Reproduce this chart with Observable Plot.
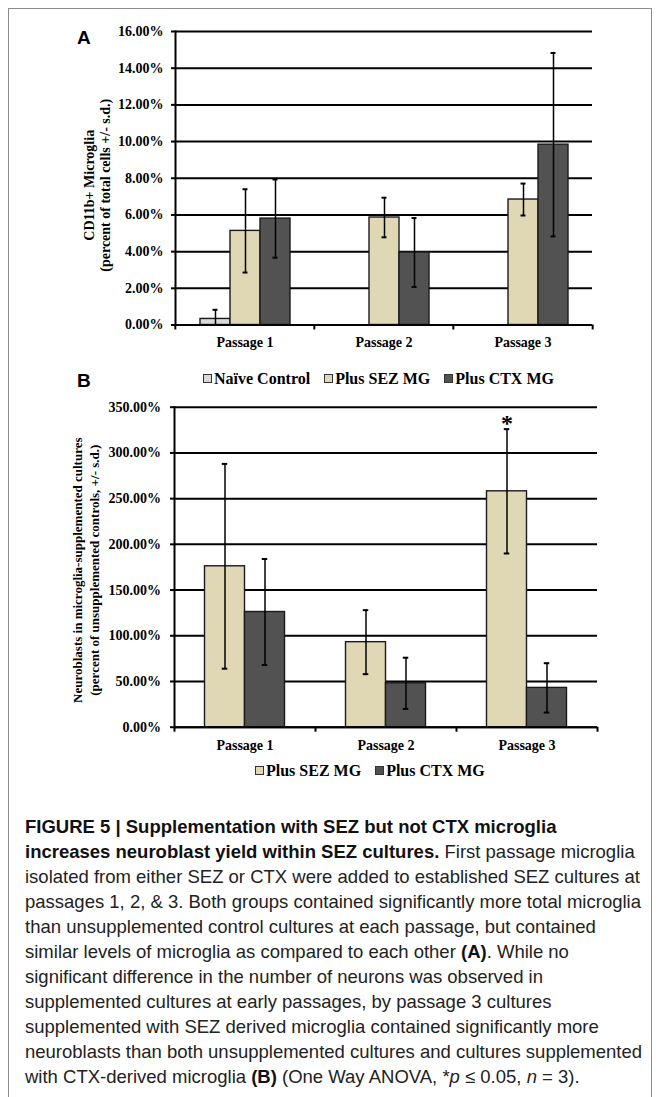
<!DOCTYPE html>
<html>
<head>
<meta charset="utf-8">
<script src="https://cdn.jsdelivr.net/npm/d3@7"></script>
<script src="https://cdn.jsdelivr.net/npm/@observablehq/plot@0.6"></script>
<style>
  body { margin: 0; background: #fff; }
  #fig { position: relative; width: 659px; height: 1097px; overflow: hidden; background: #fff; }
  #border { position: absolute; left: 8px; top: 8px; width: 644px; height: 1120px; border: 1.5px solid #8c8c8c; box-sizing: border-box; }
  .panel { position: absolute; left: 0; }
  .plabel { position: absolute; font-family: "Liberation Sans", Arial, sans-serif; font-weight: bold; font-size: 19px; line-height: 19px; color: #000; }
  .legend { position: absolute; display: flex; align-items: center; font-family: "Liberation Serif", "Times New Roman", serif; font-weight: bold; font-size: 16px; line-height: 16px; color: #000; white-space: nowrap; }
  .legend .item { display: flex; align-items: center; margin-right: 14px; }
  .legend .sw { width: 7px; height: 7px; border: 1.5px solid #333; margin-right: 2px; position: relative; top: -1px; }
  #caption { position: absolute; left: 25px; top: 814px; font-family: "Liberation Sans", Arial, sans-serif; font-size: 18.5px; line-height: 25px; color: #222; white-space: nowrap; }
  #caption b { color: #111; }
</style>
</head>
<body>
<div id="fig">
  <div id="border"></div>
  <div id="panelA" class="panel" style="top:0px"></div>
  <div id="panelB" class="panel" style="top:390px"></div>
  <div class="plabel" style="left:77px; top:28px;">A</div>
  <div class="plabel" style="left:77px; top:371px;">B</div>
  <div id="legendA" class="legend" style="left:203px; top:371px;"></div>
  <div id="legendB" class="legend" style="left:255px; top:763px;"></div>
  <div id="caption">
    <b>FIGURE 5 | Supplementation with SEZ but not CTX microglia</b><br>
    <b>increases neuroblast yield within SEZ cultures.</b> First passage microglia<br>
    isolated from either SEZ or CTX were added to established SEZ cultures at<br>
    passages 1, 2, &amp; 3. Both groups contained significantly more total microglia<br>
    than unsupplemented control cultures at each passage, but contained<br>
    similar levels of microglia as compared to each other <b>(A)</b>. While no<br>
    significant difference in the number of neurons was observed in<br>
    supplemented cultures at early passages, by passage 3 cultures<br>
    supplemented with SEZ derived microglia contained significantly more<br>
    neuroblasts than both unsupplemented cultures and cultures supplemented<br>
    with CTX-derived microglia <b>(B)</b> (One Way ANOVA, *<i>p</i> ≤ 0.05, <i>n</i> = 3).
  </div>
</div>
<script>
// ---------- data ----------
const passages = ["Passage 1", "Passage 2", "Passage 3"];

// Panel A: CD11b+ microglia (% of total cells), mean and s.d.
const seriesA = ["Naïve Control", "Plus SEZ MG", "Plus CTX MG"];
const naiveA   = [0.33, null, null];
const naiveSdA = [0.50, null, null];
const sezA     = [5.13, 5.86, 6.84];
const sezSdA   = [2.27, 1.08, 0.87];
const ctxA     = [5.80, 3.95, 9.83];
const ctxSdA   = [2.13, 1.88, 5.00];
const yTicksA  = [0, 2, 4, 6, 8, 10, 12, 14, 16];

// Panel B: neuroblasts (% of unsupplemented controls), mean and s.d.
const seriesB  = ["Plus SEZ MG", "Plus CTX MG"];
const sezB     = [176, 93, 258];
const sezSdB   = [112, 35, 68];
const ctxB     = [126, 48, 43];
const ctxSdB   = [58, 28, 27];
const yTicksB  = [0, 50, 100, 150, 200, 250, 300, 350];
const starsB   = [{passage: "Passage 3", series: "Plus SEZ MG"}];

const colorOf = {"Naïve Control": "#d9d9d9", "Plus SEZ MG": "#e0d8b4", "Plus CTX MG": "#525252"};

function rowsFrom(series, values, sds) {
  const rows = [];
  series.forEach((s, si) => passages.forEach((p, pi) => {
    const v = values[si][pi];
    if (v != null) rows.push({passage: p, series: s, value: v, sd: sds[si][pi]});
  }));
  return rows;
}
const rowsA = rowsFrom(seriesA, [naiveA, sezA, ctxA], [naiveSdA, sezSdA, ctxSdA]);
const rowsB = rowsFrom(seriesB, [sezB, ctxB], [sezSdB, ctxSdB]);
const starRowsB = starsB.map(s => rowsB.find(r => r.passage === s.passage && r.series === s.series));

const serif = "'Liberation Serif', 'Times New Roman', serif";

function panel(o) {
  const facetW = (o.width - o.mL - o.mR) / passages.length;
  const bw = facetW / (o.series.length + 2 * o.padOuter);
  const capInset = (bw - 6) / 2;
  const lower = d => Math.max(0, d.value - d.sd);
  const upper = d => d.value + d.sd;
  const marks = [
    Plot.ruleY(o.ticks, {stroke: "#000", strokeWidth: 2}),
    Plot.barY(o.rows, {fx: "passage", x: "series", y: "value", fill: "series", stroke: "#1a1a1a", strokeWidth: 1.4}),
    Plot.ruleX(o.rows, {fx: "passage", x: "series", y1: lower, y2: upper, stroke: "#000", strokeWidth: 1.5}),
    Plot.tickY(o.rows, {fx: "passage", x: "series", y: upper, insetLeft: capInset, insetRight: capInset, stroke: "#000", strokeWidth: 2}),
    Plot.tickY(o.rows.filter(d => d.value - d.sd > 0), {fx: "passage", x: "series", y: lower, insetLeft: capInset, insetRight: capInset, stroke: "#000", strokeWidth: 2}),
    Plot.ruleY([0], {stroke: "#000", strokeWidth: 2}),
    Plot.frame({anchor: "left", facetAnchor: "left", stroke: "#000", strokeWidth: 2}),
    Plot.axisY({ticks: o.ticks, tickFormat: d => d.toFixed(2) + "%", tickSize: 4, tickPadding: o.yPad, strokeWidth: 2, label: null, fontSize: 14}),
    Plot.axisFx({anchor: "bottom", tickSize: 0, tickPadding: o.fxPad, label: null, fontSize: 14}),
    Plot.axisFx({anchor: "bottom", tickSize: 5, tickFormat: () => "", strokeWidth: 2, dx: -facetW / 2, label: null}),
    Plot.axisFx({anchor: "bottom", ticks: [passages[passages.length - 1]], tickSize: 5, tickFormat: () => "", strokeWidth: 2, dx: facetW / 2, label: null}),
    Plot.text([o.title], {fx: () => passages[0], frameAnchor: "left", text: d => d, rotate: -90, dx: o.titleDx, dy: o.titleDy, fontSize: o.titleSize, lineHeight: o.titleLH, textAnchor: "middle", fontWeight: "bold"})
  ];
  if (o.stars) marks.push(Plot.text(o.stars, {fx: "passage", x: "series", y: upper, text: () => "*", fontSize: 24, dy: -6, fontWeight: "bold"}));
  return Plot.plot({
    width: o.width, height: o.height,
    marginLeft: o.mL, marginRight: o.mR, marginTop: o.mT, marginBottom: o.mB,
    style: {fontFamily: serif, fontSize: "14px", fontWeight: "bold", color: "#000", background: "transparent", overflow: "visible"},
    fx: {domain: passages, padding: 0, label: null},
    x: {domain: o.series, paddingInner: 0, paddingOuter: o.padOuter, axis: null},
    y: {domain: [0, o.ticks[o.ticks.length - 1]]},
    color: {domain: o.series, range: o.series.map(s => colorOf[s])},
    marks
  });
}

document.getElementById("panelA").appendChild(panel({
  series: seriesA, rows: rowsA, ticks: yTicksA,
  width: 659, height: 360, mL: 174, mR: 67, mT: 31, mB: 35.5,
  padOuter: 0.745, yPad: 8, fxPad: 12,
  title: "CD11b+ Microglia\n(percent of total cells +/- s.d.)", titleDx: -78.5, titleDy: 7, titleSize: 14, titleLH: 1.1
}));

document.getElementById("panelB").appendChild(panel({
  series: seriesB, rows: rowsB, ticks: yTicksB,
  width: 659, height: 370, mL: 173.5, mR: 62.4, mT: 16.7, mB: 33.3,
  padOuter: 0.741, yPad: 9.5, fxPad: 13, stars: starRowsB,
  title: "Neuroblasts in microglia-supplemented cultures\n(percent of unsupplemented controls, +/- s.d.)", titleDx: -89.5, titleDy: 3, titleSize: 13, titleLH: 1.35
}));

function legend(id, series) {
  const el = document.getElementById(id);
  series.forEach(s => {
    const item = document.createElement("div");
    item.className = "item";
    const sw = document.createElement("div");
    sw.className = "sw";
    sw.style.background = colorOf[s];
    const t = document.createElement("span");
    t.textContent = s;
    item.appendChild(sw); item.appendChild(t);
    el.appendChild(item);
  });
}
legend("legendA", seriesA);
legend("legendB", seriesB);
</script>
</body>
</html>
